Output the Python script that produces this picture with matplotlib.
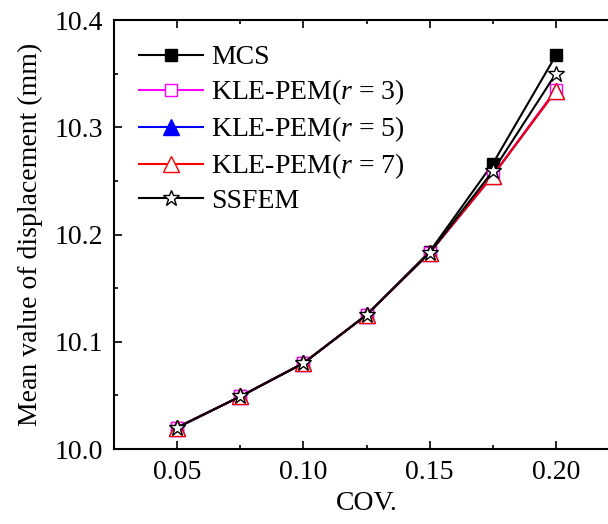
import matplotlib.pyplot as plt
from matplotlib.ticker import MultipleLocator

plt.rcParams['font.family'] = ['Liberation Serif', 'DejaVu Serif']
plt.rcParams['mathtext.fontset'] = 'custom'
plt.rcParams['mathtext.it'] = 'Liberation Serif:italic'
plt.rcParams['mathtext.rm'] = 'Liberation Serif'

# --- data ---
cov = [0.05, 0.075, 0.10, 0.125, 0.15, 0.175, 0.20]
mcs = [10.020, 10.049, 10.080, 10.125, 10.184, 10.266, 10.367]
kle_r3 = [10.020, 10.049, 10.080, 10.125, 10.183, 10.255, 10.335]
kle_r5 = [10.020, 10.049, 10.080, 10.125, 10.183, 10.255, 10.334]
kle_r7 = [10.020, 10.049, 10.080, 10.125, 10.183, 10.255, 10.334]
ssfem = [10.020, 10.049, 10.080, 10.125, 10.183, 10.259, 10.350]

fig = plt.figure(figsize=(6.08, 5.24), dpi=100)
ax = fig.add_axes([0.1875, 0.1431, 0.8306, 0.8187])

ax.plot(cov, mcs, color='black', marker='s', ms=9, lw=1.5, label='MCS')
ax.plot(cov, kle_r3, color='magenta', marker='s', ms=9, mfc='white', lw=1.5,
        label='KLE-PEM($r$ = 3)')
ax.plot(cov, kle_r5, color='blue', marker='^', ms=11, lw=1.5,
        label='KLE-PEM($r$ = 5)')
ax.plot(cov, kle_r7, color='red', marker='^', ms=11, mfc='white', lw=1.5,
        label='KLE-PEM($r$ = 7)')
ax.plot(cov, ssfem, color='black', marker='*', ms=12, mfc='white', mew=1.0,
        lw=1.5, label='SSFEM')

ax.set_xlim(0.025, 0.225)
ax.set_ylim(10.0, 10.4)
ax.xaxis.set_major_locator(MultipleLocator(0.05))
ax.xaxis.set_minor_locator(MultipleLocator(0.025))
ax.yaxis.set_major_locator(MultipleLocator(0.1))
ax.yaxis.set_minor_locator(MultipleLocator(0.05))
ax.xaxis.set_major_formatter(plt.FormatStrFormatter('%.2f'))
ax.yaxis.set_major_formatter(plt.FormatStrFormatter('%.1f'))

ax.tick_params(which='both', direction='in', top=True, right=True,
               labelsize=20, width=1.2)
ax.tick_params(which='major', length=6, pad=8)
ax.tick_params(which='minor', length=3)
for s in ax.spines.values():
    s.set_linewidth(1.5)

ax.set_xlabel('COV.', fontsize=20, labelpad=4)
ax.set_ylabel('Mean value of displacement (mm)', fontsize=20, labelpad=8)

ax.legend(loc='upper left', frameon=False, fontsize=20, handlelength=2.3,
          labelspacing=0.26, borderaxespad=0.5, handletextpad=0.3)

fig.savefig('out.png', dpi=100)
